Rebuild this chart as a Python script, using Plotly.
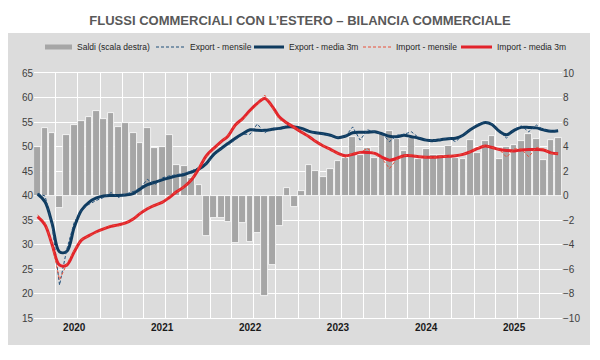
import plotly.graph_objects as go
import pandas as pd

months = pd.date_range("2020-01-01", periods=72, freq="MS") + pd.Timedelta(days=15)
months = [d.strftime("%Y-%m-%d") for d in months]

export_mensile = [40.4, 39.9, 34.0, 21.7, 29.0, 34.5, 37.0, 38.2, 39.0, 39.6, 40.6, 39.6,
                  40.3, 40.8, 41.5, 43.3, 42.2, 43.6, 44.0, 44.3, 44.5, 45.0, 45.8, 46.5,
                  48.0, 49.5, 50.3, 51.5, 52.5, 52.5, 54.6, 52.8, 53.8, 53.5, 54.3, 54.0,
                  53.5, 53.0, 52.8, 52.5, 52.3, 51.8, 52.0, 54.0, 51.3, 53.4, 53.0, 52.6,
                  51.0, 52.3, 52.5, 53.0, 51.8, 51.3, 51.2, 51.4, 51.7, 51.0, 52.3, 53.5,
                  54.5, 55.1, 54.6, 53.0, 51.7, 53.5, 54.2, 53.0, 54.4, 53.4, 53.2, 53.2]

export_media3m = [40.3, 38.7, 34.3, 28.5, 28.6, 33.5, 37.0, 38.6, 39.5, 39.9, 40.0, 40.0,
                  40.1, 40.4, 41.3, 42.2, 42.7, 43.2, 43.6, 44.0, 44.3, 44.8, 45.4, 46.5,
                  48.4, 49.6, 50.6, 51.7, 52.6, 53.4, 53.3, 53.3, 53.5, 53.7, 54.0, 54.0,
                  53.7, 53.1, 52.8, 52.6, 52.3, 51.8, 52.1, 52.8, 52.9, 52.9, 53.0, 52.6,
                  52.1, 52.0, 52.3, 52.0, 51.7, 51.3, 51.2, 51.4, 51.6, 51.7, 52.3, 53.4,
                  54.3, 54.9, 54.5, 53.1, 52.4, 53.3, 53.9, 53.9, 53.8, 53.4, 53.1, 53.2]

import_mensile = [36.0, 34.5, 30.0, 22.8, 26.0, 28.8, 31.0, 31.7, 32.5, 33.2, 34.0, 33.8,
                  34.4, 35.2, 36.4, 37.4, 38.0, 38.6, 39.8, 40.8, 41.8, 43.2, 45.8, 48.0,
                  49.6, 51.0, 52.2, 54.4, 55.5, 57.0, 58.5, 60.5, 58.0, 55.5, 54.8, 53.9,
                  52.9, 52.0, 51.0, 50.1, 49.3, 48.5, 47.8, 48.6, 48.8, 49.6, 48.5, 47.5,
                  45.5, 47.5, 48.1, 48.3, 47.9, 47.8, 47.8, 47.9, 48.0, 48.2, 48.4, 48.9,
                  49.7, 50.2, 49.8, 49.4, 47.8, 49.5, 49.5, 47.9, 49.8, 49.5, 48.6, 48.5]

import_media3m = [35.7, 34.0, 30.0, 25.8, 25.8, 28.5, 30.9, 31.8, 32.6, 33.2, 33.7, 34.0,
                  34.4, 35.2, 36.3, 37.3, 38.0, 38.6, 39.6, 40.8, 41.8, 43.2, 45.5, 48.1,
                  49.6, 51.0, 52.1, 54.4, 55.7, 57.4, 58.8, 59.8, 58.2, 56.0, 54.8, 53.9,
                  52.9, 52.0, 51.0, 50.1, 49.4, 48.6, 48.1, 48.4, 48.8, 48.8, 48.6, 47.8,
                  47.2, 47.6, 48.1, 48.1, 47.9, 47.8, 47.8, 47.9, 48.0, 48.1, 48.4, 48.9,
                  49.6, 50.1, 49.8, 49.4, 49.2, 49.1, 49.3, 49.4, 49.4, 49.3, 48.7, 48.5]

saldi = [4.0, 5.5, 5.1, -1.05, 4.9, 5.72, 6.07, 6.4, 6.87, 6.23, 6.72, 5.6,
         5.9, 5.1, 4.27, 5.52, 3.86, 4.0, 4.95, 2.48, 2.39, 1.39, 0.84, -3.32,
         -1.8, -1.87, -2.18, -3.89, -2.24, -3.81, -3.02, -8.24, -5.71, -2.45, 0.62, -0.95,
         0.33, 2.45, 1.99, 1.5, 2.16, 2.82, 3.1, 4.8, 3.3, 3.9, 3.07, 5.1,
         5.3, 4.6, 3.62, 4.68, 2.94, 3.76, 3.27, 3.27, 4.03, 3.05, 2.94, 4.5,
         3.46, 4.45, 4.87, 2.96, 3.92, 4.15, 4.47, 5.03, 4.63, 2.88, 4.5, 4.68]

year_labels = ["2020", "2021", "2022", "2023", "2024", "2025"]
year_ticks = [f"{y}-06-16" for y in year_labels]

legend_names = ["Saldi (scala destra)", "Export - mensile", "Export - media 3m",
                "Import - mensile", "Import - media 3m"]

NAVY = "#0F3B5F"
NAVY_D = "#1F4E79"
RED = "#E2232B"
RED_D = "#E8503A"
BAR = "#A6A6A6"
PANEL = "#DCDCDC"
FONT = "Liberation Sans, Arial, sans-serif"

# The page body has an 8px margin: work in page pixels and shift into figure pixels.
OFF = 8
W, H = 600 - OFF, 360 - OFF
L, R, T, B = 34 - OFF, 562 - OFF, 73 - OFF, 318 - OFF
def px(x):
    return (x - OFF - L) / (R - L)
def py(y):
    return (B - (y - OFF)) / (B - T)

fig = go.Figure()

fig.add_trace(go.Bar(x=months, y=saldi, yaxis="y", marker=dict(color=BAR, line=dict(color="white", width=0.8)),
                     name=legend_names[0], showlegend=False))
fig.add_trace(go.Scatter(x=months, y=export_media3m, yaxis="y2", mode="lines",
                         line=dict(color=NAVY, width=3, shape="spline"), name=legend_names[2], showlegend=False))
fig.add_trace(go.Scatter(x=months, y=export_mensile, yaxis="y2", mode="lines",
                         line=dict(color=NAVY_D, width=1, dash="3px,2px"), name=legend_names[1], showlegend=False))
fig.add_trace(go.Scatter(x=months, y=import_media3m, yaxis="y2", mode="lines",
                         line=dict(color=RED, width=3, shape="spline"), name=legend_names[4], showlegend=False))
fig.add_trace(go.Scatter(x=months, y=import_mensile, yaxis="y2", mode="lines",
                         line=dict(color=RED_D, width=1, dash="3px,2px"), name=legend_names[3], showlegend=False))

# legend row (drawn as shapes + text), page pixel positions
LEG_Y = 47
leg_items = [
    (45, 72, 75, dict(color=BAR, width=5)),
    (156, 185, 188, dict(color=NAVY_D, width=1.2, dash="3px,2px")),
    (254, 284, 287, dict(color=NAVY, width=3)),
    (363, 391, 394, dict(color=RED_D, width=1.2, dash="3px,2px")),
    (461, 492, 495, dict(color=RED, width=3)),
]
shapes = [dict(type="rect", xref="paper", yref="paper", x0=px(8), x1=px(590), y0=py(345), y1=py(33),
               fillcolor=PANEL, line=dict(width=0), layer="below")]
annotations = []
for (x0, x1, xt, ln), name in zip(leg_items, legend_names):
    shapes.append(dict(type="line", xref="paper", yref="paper", x0=px(x0), x1=px(x1),
                       y0=py(LEG_Y), y1=py(LEG_Y), line=ln))
    annotations.append(dict(text=name, xref="paper", yref="paper", x=px(xt), y=py(LEG_Y),
                            xanchor="left", yanchor="middle", showarrow=False,
                            font=dict(family=FONT, size=8.5, color="#262626")))

fig.update_layout(
    width=W, height=H,
    margin=dict(l=L, r=W - R, t=T, b=H - B, autoexpand=False),
    paper_bgcolor="white",
    plot_bgcolor="rgba(0,0,0,0)",
    font=dict(family=FONT, size=10, color="#404040"),
    title=dict(text="FLUSSI COMMERCIALI CON L’ESTERO – BILANCIA COMMERCIALE",
               x=px(300), xref="paper", xanchor="center", y=1 - (20 - OFF) / H, yanchor="middle",
               font=dict(family=FONT, size=13, color="#595959", weight="bold")),
    showlegend=False,
    bargap=0,
    xaxis=dict(type="date", range=["2020-01-01", "2026-01-01"],
               tickvals=year_ticks, ticktext=year_labels,
               tickfont=dict(size=10, color="#1a1a1a", family=FONT, weight="bold"),
               showgrid=False, zeroline=False, ticks="",
               minor=dict(dtick="M3", tick0="2020-01-01", showgrid=True, gridcolor="white", gridwidth=1),
               showline=True, linecolor="white", linewidth=1, mirror=True),
    yaxis=dict(range=[-10, 10], dtick=2, side="right", showgrid=True, gridcolor="white", gridwidth=1,
               zeroline=False, ticks="", tickfont=dict(size=10, color="#404040")),
    yaxis2=dict(range=[15, 65], dtick=5, overlaying="y", side="left", showgrid=False,
                zeroline=False, ticks="", tickfont=dict(size=10, color="#404040")),
    shapes=shapes,
    annotations=annotations,
)

fig.write_html("out.html")
